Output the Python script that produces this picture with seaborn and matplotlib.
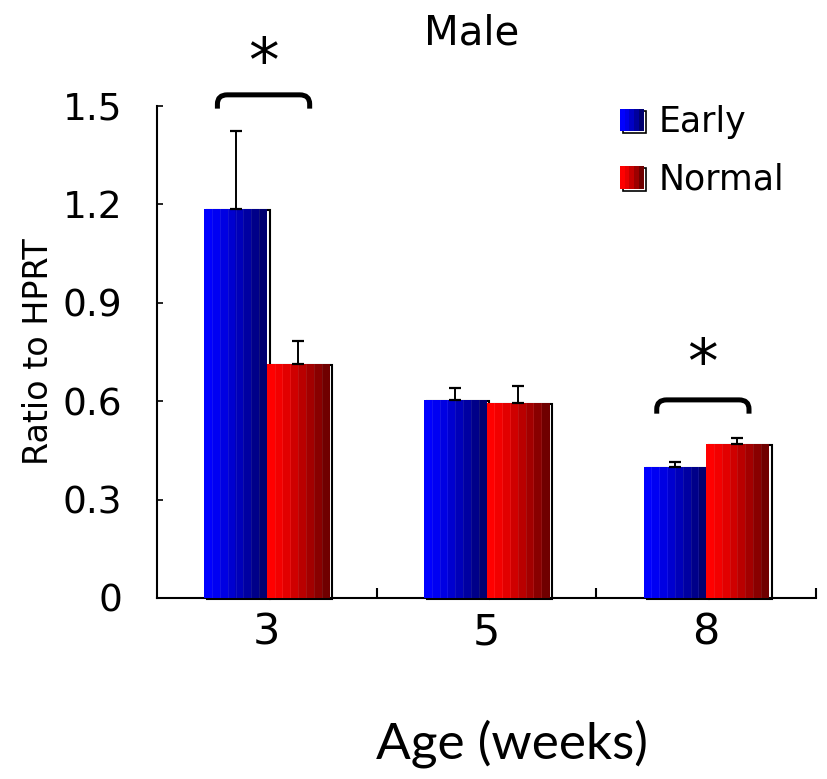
import numpy as np
import pandas as pd
import matplotlib
matplotlib.use("Agg")
import matplotlib.pyplot as plt
import seaborn as sns
from matplotlib.patches import Rectangle
from matplotlib.path import Path
from matplotlib.patches import PathPatch
from matplotlib.legend_handler import HandlerBase
from matplotlib.colors import to_rgb
import matplotlib.transforms as mtransforms

# ---- data ----
ages = ["3", "5", "8"]
groups = ["Early", "Normal"]
early_mean = [1.185, 0.605, 0.398]
normal_mean = [0.712, 0.596, 0.468]
early_err = [0.240, 0.036, 0.016]
normal_err = [0.072, 0.050, 0.019]
yticks = [0, 0.3, 0.6, 0.9, 1.2, 1.5]
ytick_labels = ["0", "0.3", "0.6", "0.9", "1.2", "1.5"]
# significant pairs (age index)
sig_ages = [0, 2]

df = pd.DataFrame({
    "age": ages * 2,
    "group": [groups[0]] * 3 + [groups[1]] * 3,
    "ratio": early_mean + normal_mean,
})

sns.set_style("white")
plt.rcParams["font.family"] = ["DejaVu Sans"]
plt.rcParams["text.color"] = "black"
plt.rcParams["axes.labelcolor"] = "black"
plt.rcParams["xtick.color"] = "black"
plt.rcParams["ytick.color"] = "black"

W, H = 827, 779
fig = plt.figure(figsize=(W / 100, H / 100), dpi=100)
ax = fig.add_axes([157 / W, 1 - 598 / H, (816 - 157) / W, (598 - 106) / H])

light = {"Early": "#0000ff", "Normal": "#ff0000"}
dark = {"Early": "#000070", "Normal": "#700000"}

sns.barplot(data=df, x="age", y="ratio", hue="group", hue_order=groups,
            order=ages, palette=light, width=0.57, linewidth=0,
            legend=False, ax=ax, zorder=3)

ax.set_xlim(-0.5, 2.5)
ax.set_ylim(0, 1.5)

def ramp(name, n=8):
    c0 = np.array(to_rgb(light[name]))
    c1 = np.array(to_rgb(dark[name]))
    t = np.linspace(0, 1, n) ** 1.3
    return c0[None, :] * (1 - t[:, None]) + c1[None, :] * t[:, None]

shadow_off = mtransforms.ScaledTranslation(3 / 100, -1 / 100, fig.dpi_scale_trans)

bars = list(ax.patches)
bar_groups = [groups[0]] * 3 + [groups[1]] * 3
centers = {}
for patch, grp in zip(bars, bar_groups):
    x0, y0 = patch.get_x(), patch.get_y()
    w, h = patch.get_width(), patch.get_height()
    centers.setdefault(grp, []).append(x0 + w / 2)
    # drop shadow outline
    sh = Rectangle((x0, y0), w, h, fill=False, edgecolor="black", lw=1.5,
                   transform=ax.transData + shadow_off, zorder=2, clip_on=False)
    ax.add_patch(sh)
    # stepped horizontal shading
    img = ramp(grp)[None, :, :]
    im = ax.imshow(img, extent=(x0, x0 + w, y0, y0 + h), aspect="auto",
                   interpolation="nearest", zorder=3.5)
    im.set_clip_path(patch)
    # faint seams between shading steps
    for k in range(1, 8):
        xs = x0 + w * k / 8
        ax.plot([xs, xs], [y0, y0 + h], color="white", alpha=0.08, lw=0.8,
                zorder=3.6)

ax.set_xlim(-0.5, 2.5)
ax.set_ylim(0, 1.5)

# upper error bars
for grp, means, errs in [("Early", early_mean, early_err),
                         ("Normal", normal_mean, normal_err)]:
    ax.errorbar(centers[grp], means, yerr=[np.zeros(3), errs], fmt="none",
                ecolor="black", elinewidth=1.4, capsize=4.5, capthick=1.6,
                zorder=4)

# significance brackets
def bracket(xc, y, half=0.21, leg=0.042, rx=0.045, ry=0.028):
    verts = [(xc - half, y - leg), (xc - half, y - ry), (xc - half, y),
             (xc - half + rx, y), (xc + half - rx, y), (xc + half, y),
             (xc + half, y - ry), (xc + half, y - leg)]
    codes = [Path.MOVETO, Path.LINETO, Path.CURVE3, Path.CURVE3,
             Path.LINETO, Path.CURVE3, Path.CURVE3, Path.LINETO]
    ax.add_patch(PathPatch(Path(verts, codes), fill=False, lw=3.6,
                           edgecolor="black", capstyle="butt",
                           joinstyle="round", clip_on=False, zorder=5))

for i in sig_ages:
    cx = (centers["Early"][i] + centers["Normal"][i]) / 2
    if i == 0:
        by, sy = 1.534, 1.625
    else:
        by, sy = 0.604, 0.71
    bracket(cx - 0.015, by)
    ax.text(cx - 0.015, sy, "*", ha="center", va="center", fontsize=44,
            clip_on=False)

# axes styling
for s in ["top", "right"]:
    ax.spines[s].set_visible(False)
for s in ["left", "bottom"]:
    ax.spines[s].set_linewidth(1.5)
    ax.spines[s].set_color("black")

ax.set_yticks(yticks)
ax.set_yticklabels(ytick_labels)
ax.tick_params(axis="y", direction="in", length=4.5, width=1.2, pad=25,
               labelsize=27, left=True)
ax.set_xticks([0, 1, 2])
ax.set_xticklabels(ages)
ax.set_xticks([0.5, 1.5, 2.5], minor=True)
ax.tick_params(axis="x", which="major", length=0, pad=10, labelsize=31)
ax.tick_params(axis="x", which="minor", direction="in", length=7, width=1.5,
               bottom=True)

ax.set_xlabel("Age (weeks)", fontsize=37, family=["Lato", "DejaVu Sans"])
ax.xaxis.set_label_coords(0.539, -0.247)
ax.set_ylabel("Ratio to HPRT", fontsize=24)
ax.yaxis.set_label_coords(-0.155, 0.5)
ax.set_title("Male", fontsize=29, x=0.477, y=1.124, pad=0)


class GradientHandler(HandlerBase):
    def create_artists(self, legend, orig_handle, xdescent, ydescent, width,
                       height, fontsize, trans):
        cols = ramp(orig_handle.get_label(), 5)
        arts = []
        sh = Rectangle((-xdescent + 2, -ydescent - 1.5), width, height,
                       fill=False, edgecolor="black", lw=1.2, transform=trans)
        arts.append(sh)
        n = len(cols)
        for k, c in enumerate(cols):
            arts.append(Rectangle((-xdescent + width * k / n, -ydescent),
                                  width / n + 0.3, height, facecolor=c,
                                  edgecolor="none", transform=trans))
        return arts


handles = [Rectangle((0, 0), 1, 1, label=g) for g in groups]
fig.legend(handles=handles, labels=groups, loc="upper left",
           bbox_to_anchor=(620 / W, 1 - 105 / H), frameon=False, fontsize=25,
           handler_map={Rectangle: GradientHandler()}, handlelength=0.68,
           handleheight=0.62, handletextpad=0.42, labelspacing=0.68,
           borderpad=0, borderaxespad=0)

fig.savefig("out.png", dpi=100)
